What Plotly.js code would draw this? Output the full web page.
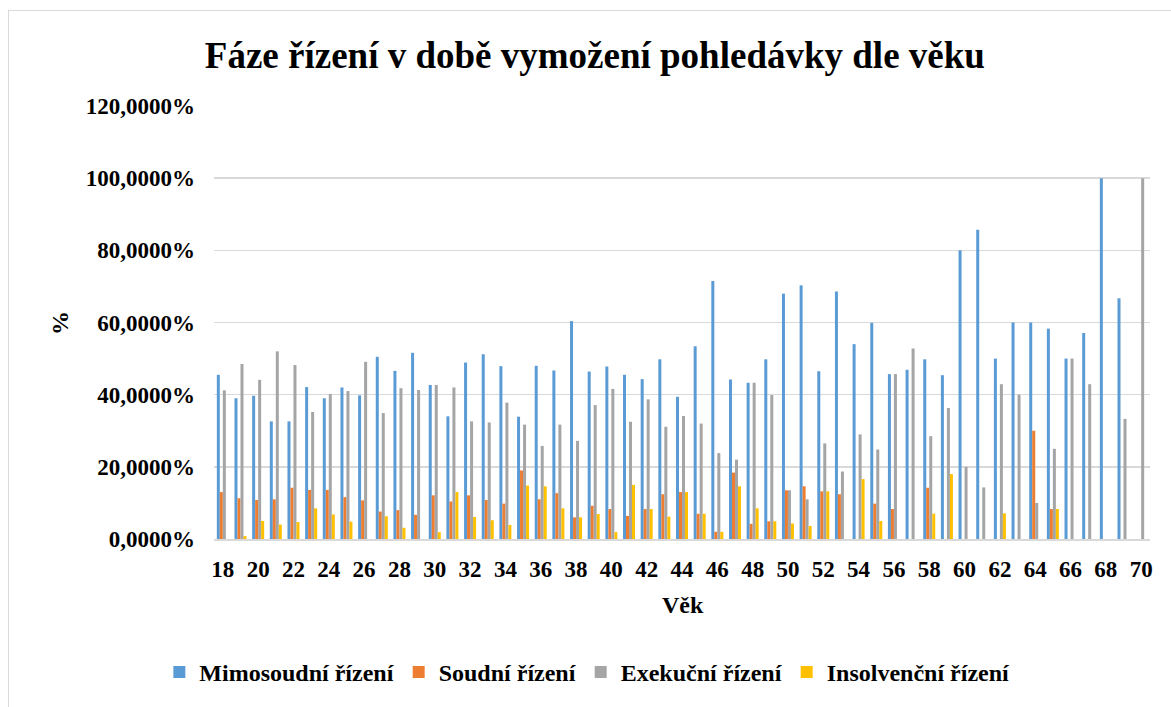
<!DOCTYPE html>
<html>
<head>
<meta charset="utf-8">
<script src="https://cdn.plot.ly/plotly-3.0.1.min.js"></script>
<style>
  html, body { margin: 0; padding: 0; background: #fff; }
  #wrap { position: relative; width: 1171px; height: 707px; overflow: hidden; }
  #chart { width: 1171px; height: 707px; }
  #frame { position: absolute; left: 8px; top: 10px; width: 1180px; height: 720px;
           border: 1.5px solid #d9d9d9; pointer-events: none; box-sizing: border-box; }
</style>
</head>
<body>
<div id="wrap">
  <div id="chart"></div>
  <div id="frame"></div>
</div>
<script>
const ages = [18,19,20,21,22,23,24,25,26,27,28,29,30,31,32,33,34,35,36,37,38,39,40,41,42,43,44,45,46,47,48,49,50,51,52,53,54,55,56,57,58,59,60,61,62,63,64,65,66,67,68,69,70];

const mimosoudni = [45.5,39.0,39.7,32.6,32.6,42.1,39.0,42.0,39.8,50.5,
                    46.6,51.6,42.7,34.0,48.9,51.2,47.9,33.9,48.0,46.7,
                    60.4,46.4,47.8,45.5,44.3,49.8,39.4,53.4,71.5,44.2,
                    43.3,49.8,68.0,70.3,46.5,68.6,54.0,59.9,45.7,46.9,
                    49.8,45.4,80.0,85.7,50.0,60.0,60.0,58.3,50.0,57.1,
                    100,66.7,0];

const soudni = [13.0,11.3,10.8,11.0,14.2,13.6,13.6,11.6,10.7,7.6,
                8.0,6.7,12.1,10.4,12.1,10.8,9.8,19.0,11.0,12.7,
                6.0,9.2,8.3,6.4,8.3,12.4,13.0,7.0,2.0,18.4,
                4.2,4.9,13.5,14.6,13.2,12.4,0,9.8,8.3,0,
                14.2,0,0,0,0,0,30.0,8.3,0,0,
                0,0,0];

const exekucni = [41.2,48.5,44.1,52.0,48.2,35.2,40.2,41.0,49.1,34.9,
                  41.8,41.3,42.7,42.0,32.6,32.3,37.8,31.7,25.8,31.7,
                  27.2,37.1,41.6,32.5,38.7,31.1,34.1,32.0,23.8,22.0,
                  43.3,39.9,13.5,11.0,26.5,18.7,29.0,24.8,45.7,52.8,
                  28.5,36.3,20.0,14.3,42.9,40.0,10.0,25.0,50.0,42.9,
                  0,33.3,100];

const insolvencni = [0,0.8,5.0,4.0,4.7,8.5,6.8,4.8,0,6.3,
                     3.1,0,1.9,13.0,6.1,5.2,3.9,14.8,14.6,8.5,
                     6.0,6.9,1.9,15.0,8.3,6.2,13.0,7.0,2.0,14.6,
                     8.5,4.9,4.3,3.6,13.2,0,16.6,5.0,0,0,
                     7.0,18.0,0,0,7.1,0,0,8.3,0,0,
                     0,0,0];

const seriesNames = ["Mimosoudní řízení","Soudní řízení","Exekuční řízení","Insolvenční řízení"];
const seriesColors = ["#5B9BD5","#ED7D31","#A5A5A5","#FFC000"];
const seriesData = [mimosoudni, soudni, exekucni, insolvencni];

const titleText = "Fáze řízení v době vymožení pohledávky dle věku";
const xTitle = "Věk";
const yTitle = "%";

const serif = "Liberation Serif";

function f(size) {
  return { family: serif, size: size, weight: "bold", color: "#000000" };
}

const traces = seriesData.map((vals, i) => ({
  type: "bar",
  x: ages,
  y: vals,
  name: seriesNames[i],
  marker: { color: seriesColors[i] },
  hoverinfo: "skip"
}));

const layout = {
  width: 1171,
  height: 707,
  margin: { l: 214, r: 21, t: 106, b: 166, pad: 0 },
  paper_bgcolor: "#ffffff",
  plot_bgcolor: "#ffffff",
  separators: ", ",
  barmode: "group",
  bargap: 0.32,
  bargroupgap: 0,
  showlegend: true,
  font: f(20),
  title: {
    text: titleText,
    font: f(37),
    x: 0.508, xanchor: "center",
    y: 1 - 55/707, yanchor: "middle",
    xref: "container", yref: "container"
  },
  xaxis: {
    type: "linear",
    range: [17.5, 70.5],
    tick0: 18,
    dtick: 2,
    showgrid: false,
    zeroline: false,
    showline: true,
    linecolor: "#d9d9d9",
    linewidth: 1.5,
    ticks: "",
    ticklabelstandoff: 9,
    tickfont: f(23),
    fixedrange: true
  },
  yaxis: {
    range: [0, 120],
    tick0: 0,
    dtick: 20,
    tickformat: ".4f",
    ticksuffix: "%",
    showgrid: true,
    gridcolor: "#d9d9d9",
    gridwidth: 1.5,
    zeroline: false,
    showline: false,
    ticks: "",
    ticklabelstandoff: 18,
    tickfont: f(23),
    fixedrange: true
  },
  legend: {
    orientation: "h",
    x: -0.0584, xanchor: "left",
    y: (541 - 675) / 435, yanchor: "middle",
    font: f(24),
    itemclick: false,
    itemdoubleclick: false,
    traceorder: "normal"
  },
  annotations: [
    {
      text: xTitle, showarrow: false,
      xref: "paper", yref: "paper",
      x: (683 - 214) / 936, y: (541 - 607) / 435,
      xanchor: "center", yanchor: "middle",
      font: f(24)
    },
    {
      text: yTitle, showarrow: false, textangle: -90,
      xref: "paper", yref: "paper",
      x: (60 - 214) / 936, y: (541 - 324) / 435,
      xanchor: "center", yanchor: "middle",
      font: f(24)
    }
  ]
};

Plotly.newPlot("chart", traces, layout, { displayModeBar: false, staticPlot: true });
</script>
</body>
</html>
